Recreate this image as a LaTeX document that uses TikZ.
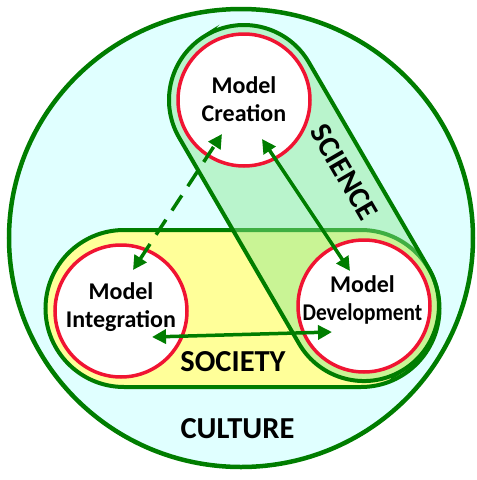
\documentclass[tikz,border=0pt]{standalone}
\usepackage{fontspec}
\setmainfont{Carlito}
\usetikzlibrary{arrows.meta,calc}
\definecolor{dgreen}{RGB}{0,125,0}
\definecolor{cultfill}{RGB}{224,255,255}
\definecolor{socfill}{RGB}{255,255,153}
\definecolor{scifill}{RGB}{139,233,146}
\definecolor{ringred}{RGB}{240,20,50}
\begin{document}
\begin{tikzpicture}[x=1pt,y=-1pt,
  border/.style={draw=dgreen,line width=4pt},
  model/.style={circle,draw=ringred,fill=white,line width=3.5pt,minimum size=132pt,inner sep=0pt},
  lbl/.style={font=\bfseries\fontsize{24}{28}\selectfont,align=center,inner sep=0pt},
  region/.style={font=\bfseries\fontsize{30.5}{34}\selectfont,inner sep=0pt},
  link/.style={draw=dgreen,line width=3.5pt,{Triangle[length=14pt,width=14pt]}-{Triangle[length=14pt,width=14pt]}},
]
\useasboundingbox (0,0) rectangle (477,480);
% culture
\draw[border,fill=cultfill,line width=4.5pt] (241,238) ellipse [x radius=232,y radius=229];
% society
\draw[border,fill=socfill,rounded corners=78.5pt] (45.5,230) rectangle (439.5,387);
% science
\draw[border,fill=scifill,fill opacity=0.46,rotate around={30.2:(244,100)},rounded corners=75pt] (169,25) rectangle (319,413.4);
% model circles
\node[model] (create) at (244,100) {};
\node[model] (integ) at (121,311) {};
\node[model] (devel) at (364,306) {};
\node[lbl] (createT) at (244,99) {Model\\Creation};
\node[lbl] (integT) at (121,307) {Model\\Integration};
\node[lbl] (develT) at (362.5,300) {Model\\\scalebox{0.89}[1]{Development}};
% connector ends
\coordinate (crA) at ($(create)+(-22,34)$);
\coordinate (crB) at ($(create)+(18,39)$);
\coordinate (inA) at ($(integ)+(12,-41)$);
\coordinate (inB) at ($(integ)+(31,26)$);
\coordinate (deA) at ($(devel)+(-14,-35)$);
\coordinate (deB) at ($(devel)+(-32,26)$);
\draw[link,dash pattern=on 18pt off 11pt] (inA) -- (crA);
\draw[link] (crB) -- (deA);
\draw[link] (inB) -- (deB);
% region labels
\node[region] (soc) at (233,361.5) {SOCIETY};
\node[region] (cult) at (237.5,428.5) {CULTURE};
\node[region,rotate=-59.8] (sci) at (344,172) {SCIENCE};
\end{tikzpicture}
\end{document}
